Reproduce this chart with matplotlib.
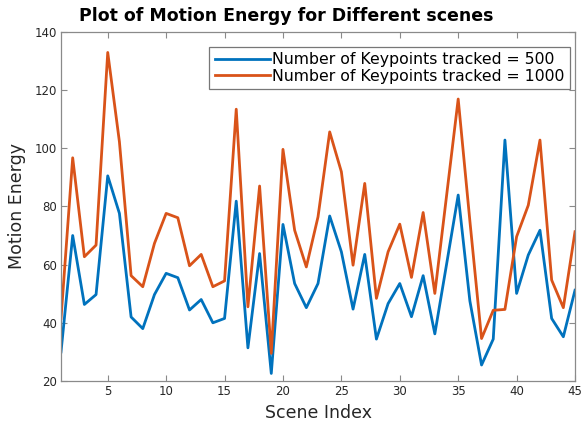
import matplotlib
matplotlib.use("Agg")
import matplotlib.pyplot as plt
import numpy as np

scene_index = list(range(1, 46))
energy_500 = [30, 70, 46.3, 49.7, 90.5, 77.6, 42, 38, 49.7, 57, 55.5, 44.4, 48, 40, 41.5,
              81.8, 31.4, 63.8, 22.6, 73.8, 53.5, 45.2, 53.5, 76.7, 64.4, 44.7, 63.5, 34.4, 46.6, 53.5,
              42.1, 56.2, 36.2, 60, 83.9, 47.5, 25.5, 34.4, 102.8, 50.1, 63.3, 71.8, 41.5, 35.2, 51.2]
energy_1000 = [41.5, 96.7, 62.7, 66.7, 132.9, 102.2, 56.2, 52.4, 67.3, 77.6, 76.1, 59.6, 63.5, 52.4, 54.4,
               113.4, 45.5, 87, 29.5, 99.6, 71.8, 59.2, 76.4, 105.6, 91.9, 59.8, 87.9, 48.4, 64.4, 73.9,
               55.6, 77.9, 50.1, 83.5, 116.9, 75, 34.6, 44.3, 44.6, 69.6, 80.4, 102.8, 54.7, 45.2, 71.3]
labels = ["Number of Keypoints tracked = 500", "Number of Keypoints tracked = 1000"]
xticks = [5, 10, 15, 20, 25, 30, 35, 40, 45]
yticks = [20, 40, 60, 80, 100, 120, 140]

fig = plt.figure(figsize=(5.81, 4.24), dpi=100)
ax = fig.add_axes([0.105, 0.1014, 0.8847, 0.8236])
ax.plot(scene_index, energy_500, color="#0072BD", lw=2.0, label=labels[0])
ax.plot(scene_index, energy_1000, color="#D95319", lw=2.0, label=labels[1])
ax.set_xlim(1, 45)
ax.set_ylim(20, 140)
ax.set_xticks(xticks)
ax.set_yticks(yticks)
spine_c = "#8a8a8a"
for s in ax.spines.values():
    s.set_color(spine_c)
    s.set_linewidth(0.9)
ax.tick_params(direction="in", top=True, right=True, length=4, width=0.8,
               color=spine_c, labelcolor="#262626", labelsize=8.5, pad=3)
ax.set_xlabel("Scene Index", fontsize=12.5, color="#262626", labelpad=4)
ax.set_ylabel("Motion Energy", fontsize=12.5, color="#262626", labelpad=6)
fig.text(0.492, 0.962, "Plot of Motion Energy for Different scenes", ha="center", va="center",
         fontsize=12.5, fontweight="bold", color="black")
leg = ax.legend(loc="upper right", bbox_to_anchor=(0.990, 0.957), fontsize=11.3, frameon=True,
                fancybox=False, edgecolor="#555555", handlelength=3.5, handletextpad=0.15,
                borderpad=0.35, labelspacing=0.1, borderaxespad=0.0)
leg.get_frame().set_linewidth(0.9)
fig.savefig("out.png", dpi=100)
